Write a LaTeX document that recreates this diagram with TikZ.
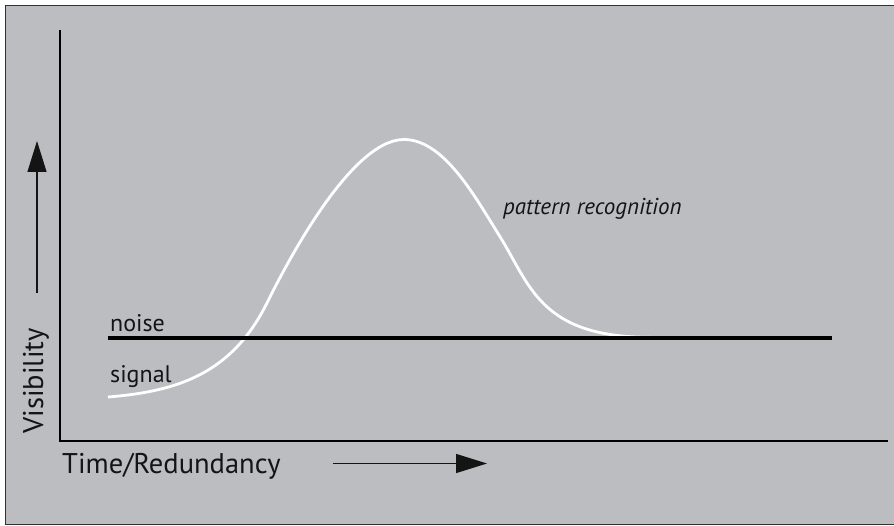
\documentclass[tikz,border=0pt]{standalone}
\usepackage{fontspec}
\setmainfont{PT Sans}
\usetikzlibrary{arrows.meta}
\definecolor{panelgray}{RGB}{188,189,192}
\definecolor{framegray}{RGB}{50,50,50}
\definecolor{inkblack}{RGB}{20,20,20}
\begin{document}
\begin{tikzpicture}[x=1pt,y=-1pt,
  axisline/.style={line width=2pt,draw=black},
  noiseline/.style={line width=4pt,draw=black},
  signalcurve/.style={line width=2.8pt,draw=white},
  dirarrow/.style={line width=1.3pt,draw=inkblack,-{Triangle[length=31pt,width=19pt]}},
  biglabel/.style={text=inkblack,inner sep=0pt,font=\fontsize{28.5}{32}\selectfont},
  smalllabel/.style={text=inkblack,inner sep=0pt,font=\fontsize{24}{28}\selectfont},
  italiclabel/.style={text=inkblack,inner sep=0pt,font=\fontsize{23}{27}\selectfont\itshape}
]
\useasboundingbox (0,0) rectangle (894,526);
\fill[white] (0,0) rectangle (894,526);
\filldraw[fill=panelgray,draw=framegray,line width=1.5pt] (5.5,5.5) rectangle (900,524.5);

% axes
\coordinate (ytop) at (59.5,30);
\coordinate (origin) at (59.5,440.5);
\coordinate (xend) at (888,440.5);
\draw[axisline] (ytop) -- (origin) -- (xend);

% signal curve
\coordinate (sstart) at (108,397);
\coordinate (srise) at (266.7,303.5);
\coordinate (speak) at (404,139.5);
\coordinate (sfall) at (500,236.7);
\coordinate (send) at (650,337.3);
\draw[signalcurve] (sstart) .. controls (178,391.4) and (231.7,373.5) .. (srise)
  .. controls (281.7,273.5) and (349,139.5) .. (speak)
  .. controls (444,139.5) and (475,196.7) .. (sfall)
  .. controls (530,284.7) and (540,337.3) .. (send);

% noise line
\coordinate (nstart) at (108,338);
\coordinate (nend) at (832,338);
\draw[noiseline] (nstart) -- (nend);

% labels
\node[smalllabel,anchor=base west] (noise) at (110,332) {noise};
\node[smalllabel,anchor=base west] (signal) at (110,383) {signal};
\node[italiclabel,anchor=base west] (pattern) at (503,215) {pattern recognition};
\node[biglabel,anchor=base west] (time) at (62,473) {Time/Redundancy};
\node[biglabel,anchor=base west,rotate=90] (vis) at (43,434) {Visibility};

% direction arrows
\coordinate (vfrom) at (37,293);
\coordinate (vto) at (37,141);
\draw[dirarrow] (vfrom) -- (vto);
\coordinate (tfrom) at (333,463.5);
\coordinate (tto) at (487,463.5);
\draw[dirarrow] (tfrom) -- (tto);
\end{tikzpicture}
\end{document}
